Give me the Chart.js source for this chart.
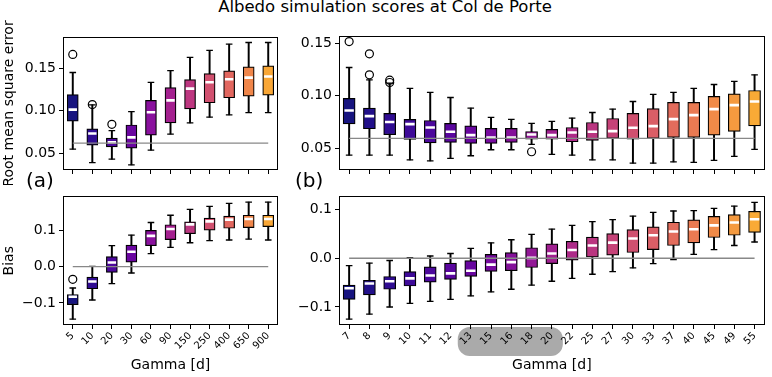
<!DOCTYPE html>
<html>
<head>
<meta charset="utf-8">
<script src="https://cdn.jsdelivr.net/npm/chart.js@4.4.0/dist/chart.umd.min.js"></script>
<style>
  body { margin: 0; background: #fff; }
  #page { position: relative; width: 772px; height: 377px; font-family: 'DejaVu Sans', sans-serif; }
  .box { position: absolute; }
  .txt { position: absolute; color: #000; white-space: nowrap; }
</style>
</head>
<body>
<div id="page">
  <div class="txt" style="left:0;width:770px;text-align:center;top:-3px;font-size:16.5px;">Albedo simulation scores at Col de Porte</div>
  <div class="box" style="left:0;top:0;width:290px;height:185px;"><canvas id="rmseLeft"></canvas></div>
  <div class="box" style="left:290px;top:0;width:482px;height:185px;"><canvas id="rmseRight"></canvas></div>
  <div class="box" style="left:0;top:185px;width:290px;height:192px;"><canvas id="biasLeft"></canvas></div>
  <div class="box" style="left:290px;top:185px;width:482px;height:192px;"><canvas id="biasRight"></canvas></div>
  <div class="txt" style="left:26px;top:168px;font-size:20px;">(a)</div>
  <div class="txt" style="left:295px;top:168px;font-size:20px;">(b)</div>
</div>
<script>
// ---- data ----
const leftLabels = ['5', '10', '20', '30', '60', '90', '150', '250', '400', '650', '900'];
const rightLabels = ['7', '8', '9', '10', '11', '12', '13', '15', '16', '18', '20', '22', '25', '27', '30', '33', '37', '40', '45', '49', '55'];

const leftColors = ['#17147f', '#300c92', '#4c089c', '#6a06a0', '#8a119e', '#a4208f', '#bd3780', '#d1506f', '#e2675f', '#f0864a', '#f9a736'];
const rightColors = ['#17147f', '#22108a', '#300c92', '#3e0a98', '#4c089c', '#5a069e', '#68069f', '#760a9e', '#84109a', '#921896',
    '#a02090', '#ad2a88', '#ba3580', '#c64278', '#d0506f', '#da5e66', '#e36c5c', '#ea7a52', '#f08a48', '#f59a3f', '#f9aa36'];

const rmseLeftLow = [0.0545, 0.0387, 0.0427, 0.036, 0.0534, 0.0723, 0.0854, 0.0921, 0.0949, 0.0976, 0.0976];
const rmseLeftQ1 = [0.0874, 0.0593, 0.0573, 0.0557, 0.0711, 0.0854, 0.102, 0.1091, 0.115, 0.117, 0.118];
const rmseLeftMed = [0.101, 0.073, 0.0625, 0.0684, 0.098, 0.1119, 0.1257, 0.1332, 0.1368, 0.1387, 0.140];
const rmseLeftQ3 = [0.1186, 0.0783, 0.0676, 0.083, 0.1119, 0.1269, 0.1364, 0.1435, 0.1466, 0.1514, 0.1526];
const rmseLeftHigh = [0.1447, 0.1067, 0.0763, 0.0988, 0.133, 0.147, 0.1625, 0.1708, 0.178, 0.180, 0.180];
const rmseLeftOut = [{ x: '5', y: 0.166 }, { x: '10', y: 0.107 }, { x: '20', y: 0.0838 }];
const rmseLeftRef = 0.0617;

const rmseRightLow = [0.0435, 0.0435, 0.0435, 0.039, 0.038, 0.0403, 0.0429, 0.0486, 0.0486, 0.0537, 0.0441, 0.0435, 0.039, 0.039, 0.0359, 0.0359, 0.0371, 0.0365, 0.0384, 0.0422, 0.0489];
const rmseRightQ1 = [0.0733, 0.0686, 0.0629, 0.0584, 0.0552, 0.0556, 0.0546, 0.0546, 0.0556, 0.0587, 0.0587, 0.0562, 0.0575, 0.0594, 0.0587, 0.0594, 0.0603, 0.0603, 0.0625, 0.066, 0.0714];
const rmseRightMed = [0.086, 0.0806, 0.075, 0.073, 0.0698, 0.0657, 0.0625, 0.0603, 0.0603, 0.0632, 0.0625, 0.0651, 0.0657, 0.0663, 0.0695, 0.0711, 0.0778, 0.0816, 0.0873, 0.0911, 0.0946];
const rmseRightQ3 = [0.0975, 0.0883, 0.0832, 0.0775, 0.0765, 0.0737, 0.0714, 0.0689, 0.0689, 0.066, 0.068, 0.0698, 0.0746, 0.0784, 0.0832, 0.0879, 0.0937, 0.0937, 0.0994, 0.1019, 0.1051];
const rmseRightHigh = [0.127, 0.1152, 0.112, 0.107, 0.1032, 0.0984, 0.0883, 0.0794, 0.0775, 0.0737, 0.0756, 0.0787, 0.0841, 0.0873, 0.0946, 0.1013, 0.1032, 0.107, 0.1108, 0.1137, 0.120];
const rmseRightOut = [{ x: '7', y: 0.1517 }, { x: '8', y: 0.140 }, { x: '8', y: 0.120 }, { x: '9', y: 0.1149 }, { x: '9', y: 0.1127 }, { x: '18', y: 0.0467 }];
const rmseRightRef = 0.0594;

const biasLeftLow = [-0.145, -0.092, -0.047, -0.0175, 0.036, 0.0535, 0.066, 0.072, 0.0737, 0.0763, 0.0737];
const biasLeftQ1 = [-0.105, -0.061, -0.016, 0.0123, 0.058, 0.0746, 0.091, 0.101, 0.106, 0.108, 0.1105];
const biasLeftMed = [-0.083, -0.041, 0.0114, 0.041, 0.085, 0.104, 0.1167, 0.125, 0.13, 0.1316, 0.1316];
const biasLeftQ3 = [-0.077, -0.029, 0.028, 0.0596, 0.100, 0.1158, 0.124, 0.134, 0.1395, 0.142, 0.142];
const biasLeftHigh = [-0.0588, 0.001, 0.058, 0.087, 0.122, 0.142, 0.158, 0.1667, 0.1746, 0.178, 0.178];
const biasLeftOut = [{ x: '5', y: -0.035 }];
const biasLeftRef = 0;

const biasRightLow = [-0.125, -0.1148, -0.1, -0.0925, -0.0885, -0.0846, -0.0774, -0.0689, -0.0636, -0.055, -0.0472, -0.0413, -0.0328, -0.0275, -0.0197, -0.011, -0.0026, 0.0079, 0.0177, 0.0262, 0.0334];
const biasRightQ1 = [-0.0846, -0.0754, -0.0636, -0.057, -0.049, -0.0433, -0.0374, -0.0269, -0.0256, -0.019, -0.011, -0.0039, 0.0026, 0.0066, 0.0118, 0.0177, 0.0262, 0.0315, 0.0426, 0.0472, 0.0531];
const biasRightMed = [-0.0616, -0.0518, -0.0472, -0.0413, -0.0354, -0.031, -0.0256, -0.0131, -0.0079, 0.0007, 0.0098, 0.017, 0.0262, 0.0321, 0.0407, 0.0472, 0.055, 0.0597, 0.0675, 0.0734, 0.080];
const biasRightQ3 = [-0.055, -0.0452, -0.0374, -0.0275, -0.0177, -0.0098, -0.0046, 0.0079, 0.0118, 0.0216, 0.0295, 0.0348, 0.0433, 0.0505, 0.059, 0.0643, 0.074, 0.0787, 0.0859, 0.0898, 0.0964];
const biasRightHigh = [-0.0151, -0.0098, -0.0046, 0.0013, 0.0046, 0.0098, 0.0203, 0.0315, 0.038, 0.049, 0.0597, 0.0675, 0.0754, 0.0793, 0.0866, 0.0944, 0.097, 0.098, 0.1023, 0.107, 0.1148];
const biasRightOut = [];
const biasRightRef = 0;

const rmseTicks = [0.05, 0.10, 0.15];
const biasTicks = [-0.1, 0.0, 0.1];
const highlightFrom = '13';
const highlightTo = '20';

// ---- drawing ----
Chart.defaults.font.family = "'DejaVu Sans', sans-serif";
Chart.defaults.font.size = 14;
Chart.defaults.color = '#000';

const framePlugin = {
    id: 'frame',
    afterDatasetsDraw(chart) {
        const a = chart.chartArea;
        const ctx = chart.ctx;
        ctx.save();
        ctx.strokeStyle = '#000';
        ctx.lineWidth = 1;
        ctx.strokeRect(Math.round(a.left) + 0.5, Math.round(a.top) + 0.5, Math.round(a.right - a.left) - 1, Math.round(a.bottom - a.top) - 1);
        ctx.restore();
    }
};

const highlightPlugin = {
    id: 'highlight',
    beforeDraw(chart, args, opts) {
        if (!opts.from) return;
        const x = chart.scales.x;
        const a = chart.chartArea;
        const x0 = x.getPixelForValue(x.getLabels().indexOf(opts.from)) - 13;
        const x1 = x.getPixelForValue(x.getLabels().indexOf(opts.to)) + 11;
        const ctx = chart.ctx;
        ctx.save();
        ctx.fillStyle = '#aaaaaa';
        ctx.beginPath();
        ctx.roundRect(x0, a.bottom + 2, x1 - x0, 29, 12);
        ctx.fill();
        ctx.restore();
    }
};

function fmtTick(dec) {
    return v => (v < 0 ? '\u2212' : '') + Math.abs(v).toFixed(dec);
}

function boxChart(id, cfg) {
    const labels = cfg.labels;
    const datasets = [
        {
            type: 'line', data: [{ x: labels[0], y: cfg.ref }, { x: labels[labels.length - 1], y: cfg.ref }],
            borderColor: '#888888', borderWidth: 1.3, pointRadius: 0, order: 0
        },
        {
            type: 'line', data: cfg.med, showLine: false, pointStyle: 'line', pointRadius: cfg.boxW / 2 - 1.3,
            pointBorderColor: '#ffffff', pointBorderWidth: 2.6, order: 1
        },
        {
            type: 'line', data: cfg.out, showLine: false, pointStyle: 'circle', pointRadius: 4,
            pointBackgroundColor: 'rgba(0,0,0,0)', pointBorderColor: '#000', pointBorderWidth: 1.2, order: 2
        },
        {
            type: 'line', data: cfg.high, showLine: false, pointStyle: 'line', pointRadius: 3.3,
            pointBorderColor: '#000', pointBorderWidth: 1.3, order: 3
        },
        {
            type: 'line', data: cfg.low, showLine: false, pointStyle: 'line', pointRadius: 3.3,
            pointBorderColor: '#000', pointBorderWidth: 1.3, order: 3
        },
        {
            type: 'bar', data: cfg.q1.map((v, i) => [v, cfg.q3[i]]), backgroundColor: cfg.colors,
            borderColor: '#000', borderWidth: 1.2, borderSkipped: false, barThickness: cfg.boxW, grouped: false, order: 4
        },
        {
            type: 'bar', data: cfg.low.map((v, i) => [v, cfg.high[i]]), backgroundColor: '#000',
            borderWidth: 0, barThickness: 1.3, grouped: false, order: 5
        }
    ];

    new Chart(document.getElementById(id), {
        type: 'bar',
        data: { labels, datasets },
        options: {
            responsive: true,
            maintainAspectRatio: false,
            animation: false,
            events: [],
            layout: { padding: { top: cfg.padTop, right: cfg.padRight, left: 0, bottom: 0 } },
            plugins: {
                legend: { display: false },
                tooltip: { enabled: false },
                highlight: { from: cfg.hlFrom, to: cfg.hlTo }
            },
            scales: {
                x: {
                    offset: true,
                    grid: { offset: false, drawOnChartArea: false, color: '#000', tickLength: 4, tickWidth: 1 },
                    border: { display: false },
                    ticks: { display: cfg.showX, font: { size: 10 }, maxRotation: 45, minRotation: 45, autoSkip: false, padding: 1 },
                    title: { display: cfg.showX, text: 'Gamma [d]', padding: { top: 0, bottom: 3 } },
                    afterFit: s => { s.height = cfg.xHeight; }
                },
                y: {
                    min: cfg.min, max: cfg.max,
                    grid: { drawOnChartArea: false, color: '#000', tickLength: 4, tickWidth: 1 },
                    border: { display: false },
                    ticks: { callback: fmtTick(cfg.dec), padding: 3 },
                    afterBuildTicks: s => { s.ticks = cfg.ticks.map(v => ({ value: v })); },
                    title: { display: !!cfg.yTitle, text: cfg.yTitle, padding: { top: 1, bottom: 0 } },
                    afterFit: s => { s.width = cfg.yWidth; }
                }
            }
        },
        plugins: [framePlugin, highlightPlugin]
    });
}

boxChart('rmseLeft', {
    labels: leftLabels, colors: leftColors, low: rmseLeftLow, q1: rmseLeftQ1, med: rmseLeftMed, q3: rmseLeftQ3, high: rmseLeftHigh,
    out: rmseLeftOut, ref: rmseLeftRef, min: 0.030, max: 0.1865, ticks: rmseTicks, dec: 2, yTitle: 'Root mean square error',
    boxW: 11, padTop: 37, padRight: 12, yWidth: 63, xHeight: 15, showX: false
});
boxChart('rmseRight', {
    labels: rightLabels, colors: rightColors, low: rmseRightLow, q1: rmseRightQ1, med: rmseRightMed, q3: rmseRightQ3, high: rmseRightHigh,
    out: rmseRightOut, ref: rmseRightRef, min: 0.0293, max: 0.157, ticks: rmseTicks, dec: 2, yTitle: '',
    boxW: 12, padTop: 36, padRight: 2, yWidth: 49, xHeight: 15, showX: false
});
boxChart('biasLeft', {
    labels: leftLabels, colors: leftColors, low: biasLeftLow, q1: biasLeftQ1, med: biasLeftMed, q3: biasLeftQ3, high: biasLeftHigh,
    out: biasLeftOut, ref: biasLeftRef, min: -0.161, max: 0.194, ticks: biasTicks, dec: 1, yTitle: 'Bias',
    boxW: 11, padTop: 5, padRight: 12, yWidth: 63, xHeight: 52, showX: true
});
boxChart('biasRight', {
    labels: rightLabels, colors: rightColors, low: biasRightLow, q1: biasRightQ1, med: biasRightMed, q3: biasRightQ3, high: biasRightHigh,
    out: biasRightOut, ref: biasRightRef, min: -0.137, max: 0.127, ticks: biasTicks, dec: 1, yTitle: '',
    boxW: 12, padTop: 6, padRight: 2, yWidth: 49, xHeight: 52, showX: true, hlFrom: highlightFrom, hlTo: highlightTo
});
</script>
</body>
</html>
